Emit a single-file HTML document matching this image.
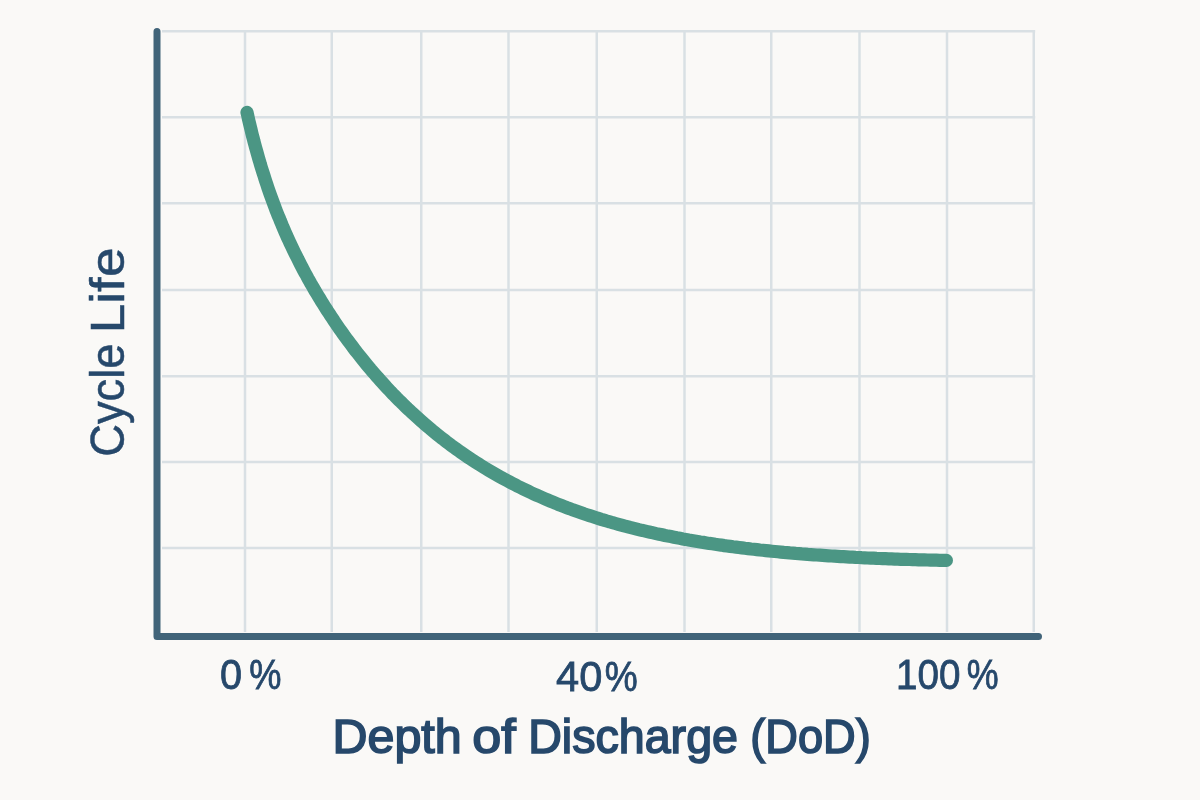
<!DOCTYPE html>
<html><head><meta charset="utf-8">
<style>
html,body{margin:0;padding:0;background:#faf9f7;width:1200px;height:800px;overflow:hidden}
svg{display:block;will-change:transform}
text{font-family:"Liberation Sans",sans-serif}
</style></head><body>
<svg width="1200" height="800" viewBox="0 0 1200 800">
<rect width="1200" height="800" fill="#faf9f7"/>
<g stroke="#d9e0e4" stroke-width="2.5" fill="none">
<line x1="162" y1="31.2" x2="1035.2" y2="31.2"/>
<line x1="162" y1="117.2" x2="1035.2" y2="117.2"/>
<line x1="162" y1="203.2" x2="1035.2" y2="203.2"/>
<line x1="162" y1="290" x2="1035.2" y2="290"/>
<line x1="162" y1="376.3" x2="1035.2" y2="376.3"/>
<line x1="162" y1="462" x2="1035.2" y2="462"/>
<line x1="162" y1="548" x2="1035.2" y2="548"/>
<line x1="245" y1="30" x2="245" y2="632"/>
<line x1="331.75" y1="30" x2="331.75" y2="632"/>
<line x1="421.25" y1="30" x2="421.25" y2="632"/>
<line x1="508.5" y1="30" x2="508.5" y2="632"/>
<line x1="596.75" y1="30" x2="596.75" y2="632"/>
<line x1="684.5" y1="30" x2="684.5" y2="632"/>
<line x1="771.25" y1="30" x2="771.25" y2="632"/>
<line x1="859.5" y1="30" x2="859.5" y2="632"/>
<line x1="947" y1="30" x2="947" y2="632"/>
<line x1="1033.75" y1="30" x2="1033.75" y2="632"/>
</g>
<path d="M157 31.5 V636.6 H1038.5" stroke="#416479" stroke-width="7" fill="none" stroke-linecap="round" stroke-linejoin="round"/>
<path d="M247.0 112.4 L247.7 115.3 L248.3 118.3 L249.0 121.2 L249.7 124.1 L250.4 127.0 L251.1 129.9 L251.8 132.9 L252.5 135.8 L253.3 138.7 L254.0 141.6 L254.8 144.5 L255.6 147.4 L256.4 150.3 L257.2 153.1 L258.0 156.0 L258.8 158.9 L259.7 161.8 L260.5 164.7 L261.4 167.6 L262.3 170.4 L263.2 173.3 L264.1 176.1 L265.0 179.0 L265.9 181.8 L266.9 184.7 L267.8 187.5 L268.8 190.4 L269.8 193.2 L270.8 196.0 L271.8 198.8 L272.9 201.7 L273.9 204.5 L275.0 207.3 L276.0 210.1 L277.1 212.9 L278.2 215.7 L279.4 218.4 L280.5 221.2 L281.7 224.0 L282.8 226.8 L284.0 229.5 L285.2 232.3 L286.4 235.0 L287.6 237.7 L288.9 240.5 L290.1 243.2 L291.4 245.9 L292.7 248.6 L294.0 251.3 L295.3 254.0 L296.7 256.7 L298.0 259.4 L299.4 262.1 L300.7 264.7 L302.1 267.4 L303.5 270.1 L304.9 272.7 L306.4 275.3 L307.8 278.0 L309.3 280.6 L310.7 283.2 L312.2 285.8 L313.7 288.4 L315.2 291.0 L316.8 293.6 L318.3 296.1 L319.9 298.7 L321.4 301.3 L323.0 303.8 L324.6 306.4 L326.2 308.9 L327.8 311.4 L329.5 313.9 L331.1 316.4 L332.8 318.9 L334.4 321.4 L336.1 323.9 L337.8 326.4 L339.5 328.9 L341.3 331.3 L343.0 333.8 L344.7 336.2 L346.5 338.6 L348.3 341.0 L350.1 343.4 L351.9 345.8 L353.7 348.2 L355.5 350.6 L357.4 353.0 L359.2 355.3 L361.1 357.7 L363.0 360.0 L364.9 362.4 L366.8 364.7 L368.7 367.0 L370.6 369.3 L372.6 371.6 L374.5 373.8 L376.5 376.1 L378.5 378.3 L380.5 380.6 L382.5 382.8 L384.5 385.0 L386.5 387.2 L388.6 389.4 L390.6 391.6 L392.7 393.8 L394.8 395.9 L396.9 398.1 L399.0 400.2 L401.2 402.3 L403.3 404.4 L405.4 406.5 L407.6 408.6 L409.8 410.6 L412.0 412.7 L414.2 414.7 L416.4 416.7 L418.6 418.7 L420.9 420.7 L423.1 422.7 L425.4 424.7 L427.7 426.6 L430.0 428.5 L432.3 430.5 L434.6 432.4 L436.9 434.3 L439.3 436.1 L441.6 438.0 L444.0 439.8 L446.4 441.7 L448.8 443.5 L451.2 445.3 L453.6 447.0 L456.0 448.8 L458.5 450.5 L460.9 452.3 L463.4 454.0 L465.9 455.7 L468.3 457.4 L470.8 459.0 L473.3 460.7 L475.9 462.3 L478.4 463.9 L480.9 465.5 L483.5 467.1 L486.0 468.7 L488.6 470.2 L491.2 471.7 L493.8 473.2 L496.4 474.7 L499.0 476.2 L501.6 477.7 L504.3 479.1 L506.9 480.5 L509.5 481.9 L512.2 483.3 L514.9 484.7 L517.5 486.1 L520.2 487.4 L522.9 488.7 L525.6 490.0 L528.3 491.3 L531.0 492.6 L533.8 493.9 L536.5 495.1 L539.2 496.3 L542.0 497.5 L544.7 498.7 L547.5 499.9 L550.3 501.1 L553.0 502.2 L555.8 503.3 L558.6 504.5 L561.4 505.5 L564.2 506.6 L567.0 507.7 L569.8 508.7 L572.6 509.8 L575.4 510.8 L578.3 511.8 L581.1 512.8 L583.9 513.8 L586.8 514.7 L589.6 515.6 L592.5 516.6 L595.3 517.5 L598.2 518.4 L601.1 519.3 L603.9 520.1 L606.8 521.0 L609.7 521.8 L612.6 522.7 L615.5 523.5 L618.4 524.3 L621.3 525.1 L624.1 525.9 L627.1 526.6 L630.0 527.4 L632.9 528.1 L635.8 528.8 L638.7 529.6 L641.6 530.3 L644.5 530.9 L647.4 531.6 L650.4 532.3 L653.3 532.9 L656.2 533.6 L659.2 534.2 L662.1 534.8 L665.0 535.5 L668.0 536.1 L670.9 536.6 L673.9 537.2 L676.8 537.8 L679.8 538.3 L682.7 538.9 L685.7 539.4 L688.6 540.0 L691.6 540.5 L694.5 541.0 L697.5 541.5 L700.4 542.0 L703.4 542.4 L706.4 542.9 L709.3 543.4 L712.3 543.8 L715.3 544.3 L718.2 544.7 L721.2 545.1 L724.2 545.6 L727.1 546.0 L730.1 546.4 L733.1 546.8 L736.1 547.1 L739.0 547.5 L742.0 547.9 L745.0 548.3 L748.0 548.6 L751.0 549.0 L753.9 549.3 L756.9 549.6 L759.9 550.0 L762.9 550.3 L765.9 550.6 L768.8 550.9 L771.8 551.2 L774.8 551.5 L777.8 551.8 L780.8 552.1 L783.8 552.4 L786.8 552.6 L789.8 552.9 L792.7 553.1 L795.7 553.4 L798.7 553.6 L801.7 553.9 L804.7 554.1 L807.7 554.4 L810.7 554.6 L813.7 554.8 L816.7 555.0 L819.7 555.2 L822.7 555.4 L825.6 555.6 L828.6 555.8 L831.6 556.0 L834.6 556.2 L837.6 556.4 L840.6 556.6 L843.6 556.7 L846.6 556.9 L849.6 557.1 L852.6 557.2 L855.6 557.4 L858.6 557.5 L861.6 557.7 L864.6 557.8 L867.6 558.0 L870.6 558.1 L873.6 558.2 L876.6 558.4 L879.6 558.5 L882.6 558.6 L885.6 558.7 L888.6 558.8 L891.6 558.9 L894.6 559.1 L897.6 559.2 L900.6 559.3 L903.6 559.4 L906.6 559.4 L909.6 559.5 L912.5 559.6 L915.5 559.7 L918.5 559.8 L921.5 559.9 L924.5 559.9 L927.5 560.0 L930.5 560.1 L933.5 560.2 L936.5 560.2 L939.5 560.3 L942.5 560.3 L945.5 560.4 L946.4 560.4" stroke="#4b9684" stroke-width="13.2" fill="none" stroke-linecap="round"/>
<g fill="#26486b" stroke="#26486b" font-family="Liberation Sans">
<g font-size="43" stroke-width="0.8">
<text x="220.08" y="689" textLength="22.08" lengthAdjust="spacingAndGlyphs">0</text>
<text x="249.16" y="689" textLength="32.18" lengthAdjust="spacingAndGlyphs">%</text>
<text x="556.03" y="691" textLength="46.28" lengthAdjust="spacingAndGlyphs">40</text>
<text x="604.64" y="691" textLength="32.92" lengthAdjust="spacingAndGlyphs">%</text>
<text x="896.1" y="688.5" textLength="64.47" lengthAdjust="spacingAndGlyphs">100</text>
<text x="966.67" y="688.5" textLength="31.85" lengthAdjust="spacingAndGlyphs">%</text>
</g>
<g font-size="49" stroke-width="1.7">
<text x="332.55" y="752.5" textLength="129.2" lengthAdjust="spacingAndGlyphs">Depth</text>
<text x="472.37" y="752.5" textLength="43.5" lengthAdjust="spacingAndGlyphs">of</text>
<text x="528.2" y="752.5" textLength="209.8" lengthAdjust="spacingAndGlyphs">Discharge</text>
<text x="750.23" y="752.5" textLength="120.5" lengthAdjust="spacingAndGlyphs">(DoD)</text>
</g>
<g font-size="49" stroke-width="0.5" transform="translate(123.5 456) rotate(-90)">
<text x="-0.85" y="0" textLength="113.3" lengthAdjust="spacingAndGlyphs">Cycle</text>
<text x="122.76" y="0" textLength="85.7" lengthAdjust="spacingAndGlyphs">Life</text>
</g>
</g>
</svg>
</body></html>
